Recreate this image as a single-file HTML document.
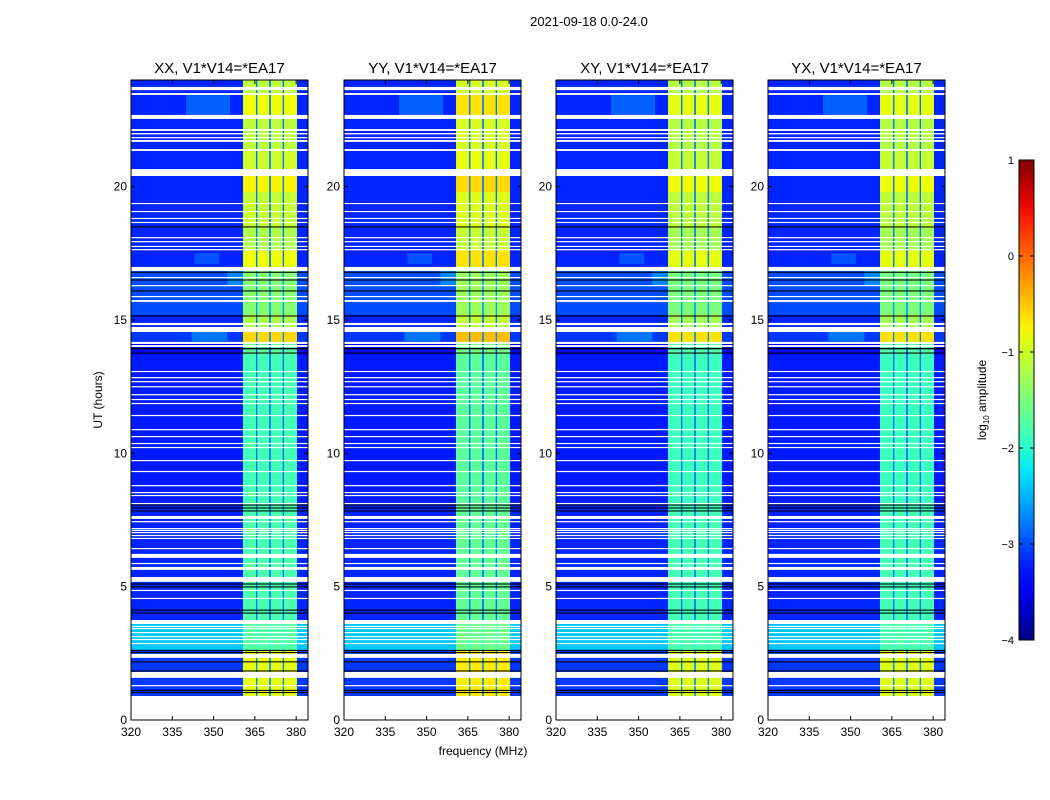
<!DOCTYPE html>
<html><head><meta charset="utf-8">
<style>
body{margin:0;background:#fff;}
svg{display:block;font-family:"Liberation Sans","DejaVu Sans",sans-serif;}
</style></head>
<body>
<svg id="fig" width="1050" height="800" viewBox="0 0 1050 800">
<rect width="1050" height="800" fill="#fff"/>
<text x="589" y="26" font-size="13" text-anchor="middle">2021-09-18 0.0-24.0</text>
<text x="483" y="755" font-size="12" text-anchor="middle">frequency (MHz)</text>
<text x="102" y="400" font-size="12" text-anchor="middle" transform="rotate(-90 102 400)">UT (hours)</text>
<g id="panels"></g>
<g id="cbar"></g>
</svg>
<script>
// ---------- data ----------
const panelTitles = ["XX, V1*V14=*EA17","YY, V1*V14=*EA17","XY, V1*V14=*EA17","YX, V1*V14=*EA17"];
const panelBandBoost = [0, 0.15, -0.05, -0.05];
const xTicks = [320,335,350,365,380];
const yTicks = [0,5,10,15,20];
const cbTicks = [1,0,-1,-2,-3,-4];
// frequency bands [f0,f1,kind]  kind: 'bg','band','gap'
const freqBands = [[320,360.7,'bg'],[360.7,365.4,'band'],[365.4,365.9,'gap'],[365.9,370.2,'band'],[370.2,370.8,'gap'],[370.8,375.1,'band'],[375.1,375.6,'gap'],[375.6,380.3,'band'],[380.3,384.3,'bg']];
// time segments [t0,t1,bandLevel,bgLevel]
const timeSegments = [
 [23.44,24,-1.1,-3.2],[22.69,23.44,-0.8,-3.2],[21.34,22.69,-1.1,-3.2],[20.66,21.34,-1.0,-3.2],
 [19.8,20.4,-0.75,-3.2],[18.5,19.8,-1.05,-3.2],[17.6,18.5,-1.2,-3.2],[16.99,17.6,-0.8,-3.2],
 [15.2,16.99,-1.45,-3.0],[14.55,15.2,-1.2,-3.2],[14.18,14.55,-0.6,-3.1],[13.7,14.18,-1.7,-3.4],
 [8.1,13.7,-1.85,-3.25],[3.75,8.1,-1.8,-3.2],[2.6,3.75,-1.75,-2.4],[0.9,2.6,-0.85,-3.1]
];
// background patches [f0,f1,t0,t1,level]
const patches = [[340,356,22.7,23.5,-2.7],[342,355,14.2,14.55,-2.6],[343,352,17.1,17.5,-2.8],[355,360.7,16.3,16.9,-2.5]];
// flagged (white) intervals [t0,t1]
const flagged = [[0,0.9],[23.62,23.74],[23.44,23.51],[22.54,22.69],[22.09,22.16],[21.96,22.01],[21.83,21.86],[21.68,21.75],[21.34,21.41],[20.40,20.66],
 [19.35,19.39],[19.05,19.09],[18.79,18.83],[18.64,18.68],[18.08,18.11],[17.93,17.96],[17.74,17.78],[17.63,17.66],[16.84,16.99],[16.58,16.61],[16.28,16.31],
 [15.86,15.90],[15.68,15.75],[14.81,14.89],[14.55,14.74],[14.10,14.18],[13.99,14.06],
 [13.05,13.09],[12.82,12.86],[12.67,12.71],[12.48,12.52],[12.18,12.22],[12.0,12.04],[11.85,11.89],[11.40,11.44],[10.87,10.91],[10.61,10.65],[10.35,10.39],[10.20,10.24],
 [9.71,9.75],[9.30,9.34],[8.77,8.81],[8.51,8.55],[8.40,8.44],[8.10,8.14],
 [7.54,7.65],[7.42,7.46],[7.16,7.20],[7.09,7.13],[7.01,7.05],[6.90,6.94],[6.79,6.83],[6.41,6.45],[6.08,6.23],[5.85,5.89],[5.63,5.74],[5.18,5.36],[4.84,4.88],[4.54,4.58],
 [3.60,3.75],[3.49,3.53],[3.41,3.45],[3.26,3.30],[3.11,3.15],[3.00,3.04],[2.85,2.89],[2.33,2.48],[1.58,1.80],[1.27,1.31]];
// black (zero) lines [t0,t1]
const blackLines = [[18.47,18.51],[16.77,16.81],[16.48,16.52],[16.07,16.11],[15.13,15.17],[13.90,13.95],[13.74,13.78],[8.04,8.08],[7.93,7.97],[7.82,7.86],
 [5.08,5.12],[4.97,5.01],[4.10,4.14],[3.99,4.03],[2.59,2.63],[2.51,2.55],[2.16,2.20],[1.82,1.86],[1.09,1.13],[1.01,1.05]];

// ---------- helpers ----------
const NS="http://www.w3.org/2000/svg";
const panelLeft=[131,344,556,768], PW=177, PT=80, PH=640;
const F0=320,F1=384.3,T0=0,T1=24;
function jet(v){
  const x=Math.max(0,Math.min(1,(v+4)/5));
  const cl=t=>Math.max(0,Math.min(1,t));
  let r=x<0.35?0:x<0.66?(x-0.35)/0.31:x<0.89?1:1-0.5*(x-0.89)/0.11;
  let g=x<0.125?0:x<0.375?(x-0.125)/0.25:x<0.64?1:x<0.91?1-(x-0.64)/0.27:0;
  let b=x<0.11?0.5+0.5*x/0.11:x<0.34?1:x<0.65?1-(x-0.34)/0.31:0;
  return `rgb(${Math.round(cl(r)*255)},${Math.round(cl(g)*255)},${Math.round(cl(b)*255)})`;
}
function mk(tag,attrs,parent){const e=document.createElementNS(NS,tag);for(const k in attrs)e.setAttribute(k,attrs[k]);parent.appendChild(e);return e;}
const panels=document.getElementById('panels');

panelTitles.forEach((title,p)=>{
  const L=panelLeft[p];
  const xs=f=>L+(f-F0)/(F1-F0)*PW;
  const ys=t=>PT+PH-(t-T0)/(T1-T0)*PH;
  const g=mk('g',{},panels);
  
  
  const hm=mk('g',{},g);
  
  
  timeSegments.forEach(seg=>{
    const [t0,t1,bl,bg]=seg;
    freqBands.forEach(fb=>{
      const [f0,f1,kind]=fb;
      const lvl=kind==='bg'?bg:kind==='gap'?bg+0.4:bl+panelBandBoost[p];
      const r=mk('rect',{x:xs(f0),y:ys(t1),width:xs(f1)-xs(f0)+0.3,height:ys(t0)-ys(t1)+0.3,fill:jet(lvl)},hm);
      
      
    });
  });
  patches.forEach(pt=>{
    const [f0,f1,t0,t1,l]=pt;
    const r=mk('rect',{x:xs(f0),y:ys(t1),width:xs(f1)-xs(f0),height:ys(t0)-ys(t1),fill:jet(l),opacity:0.6},hm);
    
    
  });
  blackLines.forEach(bk=>{
    const h=Math.max(1,ys(bk[0])-ys(bk[1]));
    const r=mk('rect',{x:L,y:ys(bk[1]),width:PW,height:h,fill:'#000'},hm);
    
    
  });
  flagged.forEach(fl=>{
    const h=Math.max(1.2,ys(fl[0])-ys(fl[1]));
    const r=mk('rect',{x:L,y:ys(fl[1]),width:PW,height:h,fill:'#fff'},hm);
    
    
  });
  const fr=mk('rect',{x:L,y:PT,width:PW,height:PH,fill:'none',stroke:'#000','stroke-width':1},g);
  
  
  const tt=mk('text',{x:L+PW/2,y:PT-7,'font-size':15,'text-anchor':'middle'},g);
  tt.textContent=title;
  
  
  xTicks.forEach(v=>{
    const x=xs(v);
    mk('line',{x1:x,x2:x,y1:PT+PH,y2:PT+PH-4,stroke:'#000'},g);
    mk('line',{x1:x,x2:x,y1:PT,y2:PT+4,stroke:'#000'},g);
    const t=mk('text',{x:x,y:PT+PH+16,'font-size':12,'text-anchor':'middle'},g);
    t.textContent=v;
    
    
  });
  yTicks.forEach(v=>{
    const y=ys(v);
    mk('line',{x1:L,x2:L+4,y1:y,y2:y,stroke:'#000'},g);
    mk('line',{x1:L+PW,x2:L+PW-4,y1:y,y2:y,stroke:'#000'},g);
    const t=mk('text',{x:L-4,y:y+4,'font-size':12,'text-anchor':'end'},g);
    t.textContent=v;
    
    
  });
});

// colorbar
const cb=document.getElementById('cbar');


const CX=1019,CW=15,CT=160,CH=480,V0=-4,V1=1;
const cys=v=>CT+CH-(v-V0)/(V1-V0)*CH;
const gr=mk('linearGradient',{id:'jetg',x1:0,y1:1,x2:0,y2:0},mk('defs',{},cb));
for(let i=0;i<=20;i++){mk('stop',{offset:i/20,'stop-color':jet(V0+i/20*(V1-V0))},gr);}
mk('rect',{x:CX,y:CT,width:CW,height:CH,fill:'url(#jetg)',stroke:'#000'},cb);
cbTicks.forEach(v=>{
  const y=cys(v);
  mk('line',{x1:CX,x2:CX+4,y1:y,y2:y,stroke:'#000'},cb);
  mk('line',{x1:CX+CW,x2:CX+CW-4,y1:y,y2:y,stroke:'#000'},cb);
  const t=mk('text',{x:CX-5,y:y+4,'font-size':11,'text-anchor':'end'},cb);
  t.textContent=(v<0?'\u2212'+(-v):String(v));
  
  
});
const cl=mk('text',{x:986,y:400,'font-size':12,'text-anchor':'middle',transform:'rotate(-90 986 400)'},cb);
cl.innerHTML='log<tspan font-size="8" dy="3">10</tspan><tspan dy="-3"> amplitude</tspan>';


</script>
</body></html>
